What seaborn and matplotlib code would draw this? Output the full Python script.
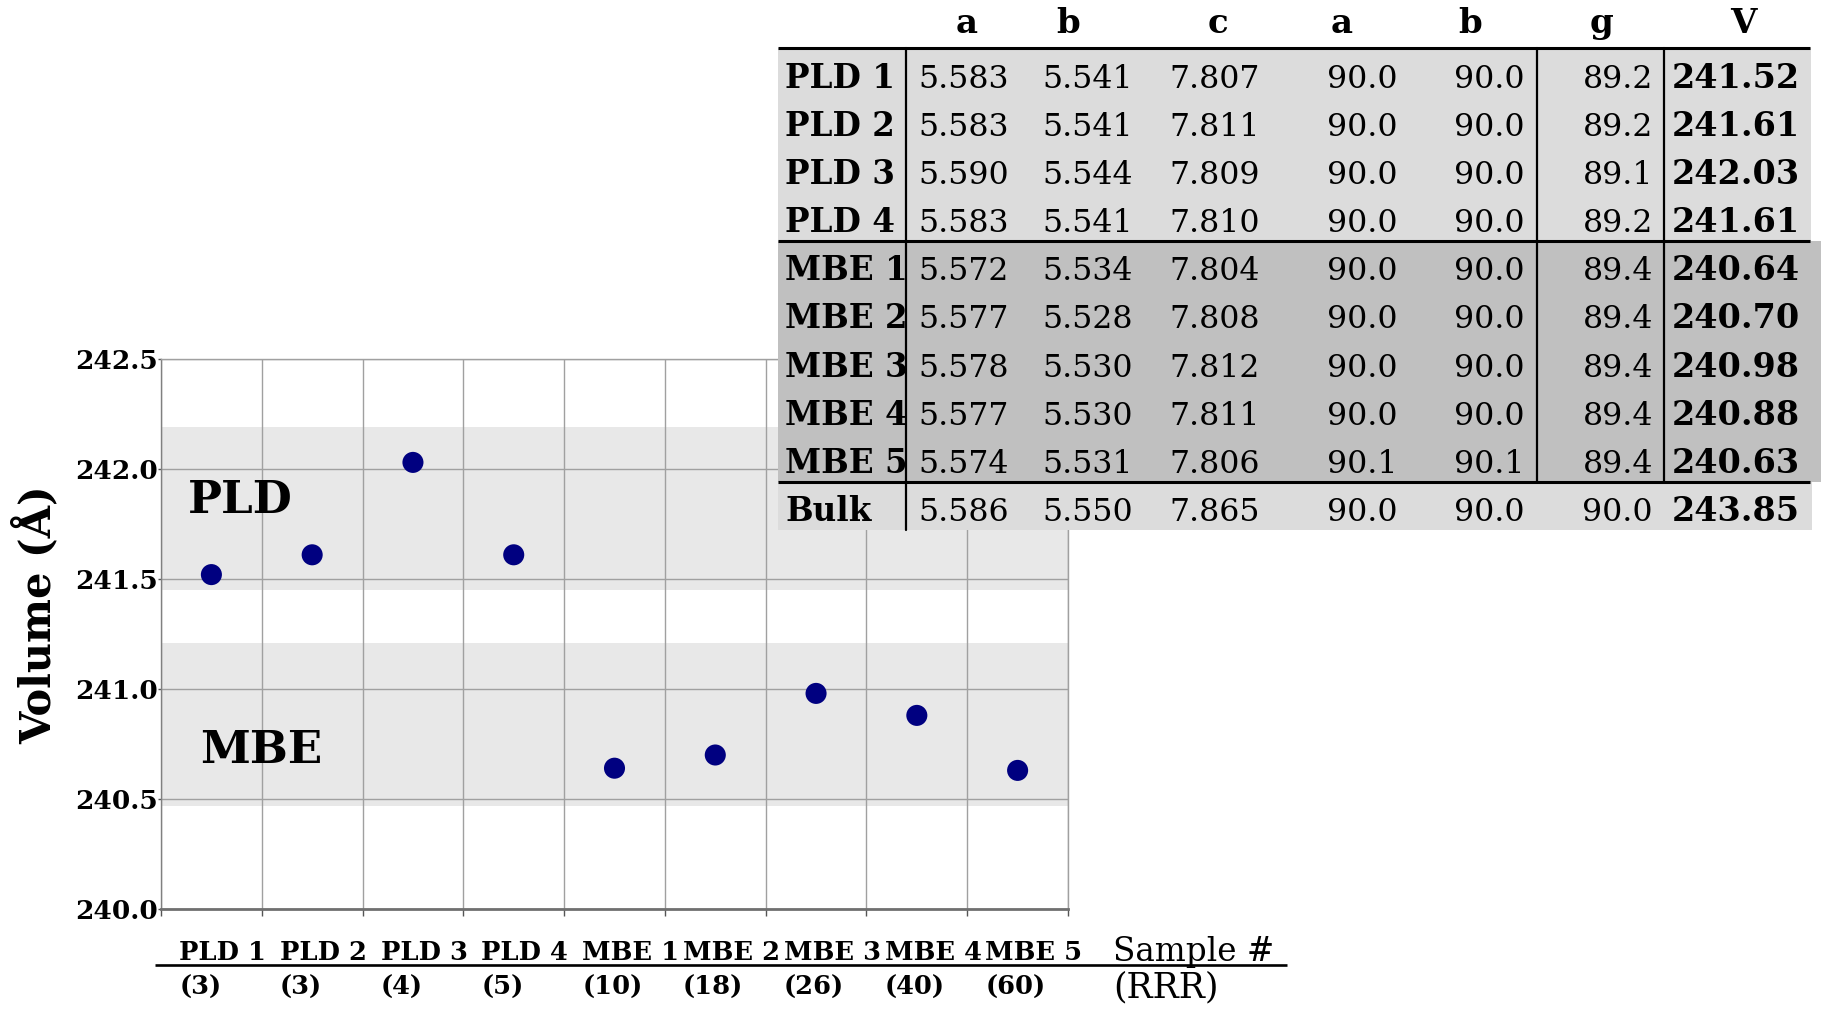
import numpy as np
import pandas as pd
import matplotlib
matplotlib.use("Agg")
import matplotlib.pyplot as plt
from matplotlib.patches import Rectangle
from matplotlib.transforms import blended_transform_factory
import seaborn as sns

# ---- data -------------------------------------------------------------
samples = ["PLD 1", "PLD 2", "PLD 3", "PLD 4",
           "MBE 1", "MBE 2", "MBE 3", "MBE 4", "MBE 5"]
rrr = ["(3)", "(3)", "(4)", "(5)", "(10)", "(18)", "(26)", "(40)", "(60)"]

lat_a = [5.583, 5.583, 5.590, 5.583, 5.572, 5.577, 5.578, 5.577, 5.574]
lat_b = [5.541, 5.541, 5.544, 5.541, 5.534, 5.528, 5.530, 5.530, 5.531]
lat_c = [7.807, 7.811, 7.809, 7.810, 7.804, 7.808, 7.812, 7.811, 7.806]
alpha = [90.0, 90.0, 90.0, 90.0, 90.0, 90.0, 90.0, 90.0, 90.1]
beta = [90.0, 90.0, 90.0, 90.0, 90.0, 90.0, 90.0, 90.0, 90.1]
gamma = [89.2, 89.2, 89.1, 89.2, 89.4, 89.4, 89.4, 89.4, 89.4]
volume = [241.52, 241.61, 242.03, 241.61, 240.64, 240.70, 240.98, 240.88, 240.63]

bulk_label = "Bulk"
bulk_values = [5.586, 5.550, 7.865, 90.0, 90.0, 90.0, 243.85]

table_header = ["a", "b", "c", "a", "b", "g", "V"]

pld_band = (241.45, 242.19)
mbe_band = (240.47, 241.21)

# ---- style ------------------------------------------------------------
sns.set_theme(style="white")
plt.rcParams["font.family"] = ["DejaVu Serif"]
plt.rcParams.update({"text.color": "black", "axes.labelcolor": "black",
                     "xtick.color": "black", "ytick.color": "black"})

W, H = 1824, 1011
fig = plt.figure(figsize=(W / 100, H / 100), dpi=100)
fig.patch.set_facecolor("white")

# ---- scatter of cell volume per sample --------------------------------
ax = fig.add_axes([161 / W, 1 - 909 / H, 907 / W, 550 / H])
n = len(samples)
df = pd.DataFrame({"pos": np.arange(n) + 0.5, "volume": volume, "sample": samples})

ax.axhspan(*pld_band, color="#e8e8e8", zorder=0.1, lw=0)
ax.axhspan(*mbe_band, color="#e8e8e8", zorder=0.1, lw=0)

sns.scatterplot(data=df, x="pos", y="volume", ax=ax, s=230,
                color="#000080", edgecolor="none", zorder=3, legend=False)

ax.set_xlim(0, n)
ax.set_ylim(240.0, 242.5)
ax.set_xticks(np.arange(n + 1))
ax.set_xticklabels([])
yt = np.arange(240.0, 242.51, 0.5)
ax.set_yticks(yt)
ax.set_yticklabels([f"{v:.1f}" for v in yt], fontsize=19, fontweight="bold")
ax.tick_params(axis="x", direction="out", length=5, width=1, color="#555555",
               bottom=True)
ax.tick_params(axis="y", direction="out", length=2, width=1, color="#555555",
               left=True, pad=0.5)
ax.grid(True, color="#a0a0a0", lw=1)
ax.set_axisbelow(True)
ax.set_xlabel("")
ax.set_ylabel("Volume (Å)", fontsize=30, fontweight="bold")
ax.yaxis.set_label_coords(-0.112, 0.536)
for side, sp in ax.spines.items():
    sp.set_color("#a0a0a0")
    sp.set_linewidth(1)
ax.spines["left"].set_color("#808080")
ax.spines["bottom"].set_color("#707070")
ax.spines["bottom"].set_linewidth(2)

ax.text(0.27, 241.8, "PLD", fontsize=32.5, fontweight="bold", ha="left",
        va="baseline", zorder=4)
ax.text(0.386, 240.664, "MBE", fontsize=32.5, fontweight="bold", ha="left",
        va="baseline", zorder=4)

# ---- overlay in pixel coordinates for the table and axis captions -----
ov = fig.add_axes([0, 0, 1, 1], zorder=5)
ov.set_xlim(0, W)
ov.set_ylim(H, 0)
ov.axis("off")
ov.patch.set_alpha(0)

# two-row category labels under the scatter
xlab = blended_transform_factory(ax.transData, ov.transData)
for i, (s_lab, r_lab) in enumerate(zip(samples, rrr)):
    ov.text(i + 0.18, 960, s_lab, transform=xlab, fontsize=18.5,
            fontweight="bold", ha="left", va="baseline", clip_on=False)
    ov.text(i + 0.18, 995, r_lab, transform=xlab, fontsize=18.5,
            fontweight="bold", ha="left", va="baseline", clip_on=False)
ov.plot([155, 1287], [965, 965], color="black", lw=1.9, solid_capstyle="butt")
ov.text(1113, 961, "Sample #", fontsize=23.5, ha="left", va="baseline")
ov.text(1113, 997, "(RRR)", fontsize=25, ha="left", va="baseline")

# ---- lattice-parameter table -----------------------------------------
light, dark = "#dcdcdc", "#c0c0c0"
ov.add_patch(Rectangle((778, 48), 1811 - 778, 241 - 48, fc=light, ec="none"))
ov.add_patch(Rectangle((778, 241), 1821 - 778, 482 - 241, fc=dark, ec="none"))
ov.add_patch(Rectangle((778, 482), 1812 - 778, 530 - 482, fc=light, ec="none"))

for y in (48, 241, 482):
    ov.plot([778, 1810], [y, y], color="black", lw=2.2, solid_capstyle="butt")
ov.plot([906, 906], [48, 530], color="black", lw=1.6)
ov.plot([1537, 1537], [48, 482], color="black", lw=1.6)
ov.plot([1664, 1664], [48, 482], color="black", lw=1.6)

header_x = [967, 1068, 1218, 1342, 1470, 1602, 1743]
for hx, h in zip(header_x, table_header):
    ov.text(hx, 33, h, fontsize=24.5, fontweight="bold", ha="center", va="baseline")

fs = 22.7
row_h = 48.1


def draw_row(y, label, vals):
    ov.text(785, y, label, fontsize=23.5, fontweight="bold", ha="left", va="baseline")
    ov.text(964, y, f"{vals[0]:.3f}", fontsize=fs, ha="center", va="baseline")
    ov.text(1088, y, f"{vals[1]:.3f}", fontsize=fs, ha="center", va="baseline")
    ov.text(1215, y, f"{vals[2]:.3f}", fontsize=fs, ha="center", va="baseline")
    ov.text(1362, y, f"{vals[3]:.1f}", fontsize=fs, ha="center", va="baseline")
    ov.text(1489, y, f"{vals[4]:.1f}", fontsize=fs, ha="center", va="baseline")
    ov.text(1653, y, f"{vals[5]:.1f}", fontsize=fs, ha="right", va="baseline")
    ov.text(1672, y, f"{vals[6]:.2f}", fontsize=24, fontweight="bold",
            ha="left", va="baseline")


for i in range(n):
    draw_row(88 + row_h * i, samples[i],
             [lat_a[i], lat_b[i], lat_c[i], alpha[i], beta[i], gamma[i], volume[i]])
draw_row(88 + row_h * n, bulk_label, bulk_values)

fig.savefig("out.png", dpi=100, facecolor="white")
